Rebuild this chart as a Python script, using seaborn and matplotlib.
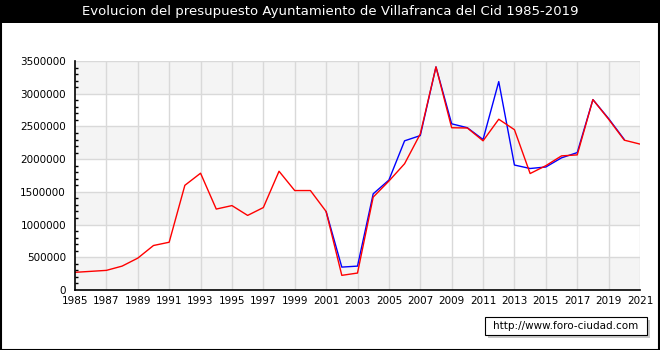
import matplotlib
matplotlib.use("Agg")
import matplotlib.pyplot as plt
from matplotlib.patches import Rectangle
from matplotlib.ticker import MultipleLocator, FixedLocator
import numpy as np
import pandas as pd
import seaborn as sns

sns.set_style("white")
plt.rcParams["font.family"] = ["DejaVu Sans"]

# Presupuesto anual (euros)
years_red = list(range(1985, 2022))
budget_red = [270000, 285000, 300000, 365000, 487000, 680000, 730000, 1600000,
              1785000, 1237000, 1290000, 1140000, 1260000, 1815000, 1520000,
              1520000, 1200000, 224000, 259000, 1420000, 1665000, 1930000,
              2385000, 3410000, 2480000, 2476000, 2280000, 2610000, 2450000,
              1780000, 1900000, 2050000, 2065000, 2910000, 2610000, 2290000,
              2230000]

years_blue = list(range(2001, 2021))
budget_blue = [1200000, 350000, 365000, 1470000, 1680000, 2280000, 2360000,
               3410000, 2540000, 2480000, 2300000, 3185000, 1910000, 1857000,
               1880000, 2020000, 2100000, 2910000, 2620000, 2300000]

title = "Evolucion del presupuesto Ayuntamiento de Villafranca del Cid 1985-2019"
credit = "http://www.foro-ciudad.com"
x_ticks = list(range(1985, 2022, 2))
y_ticks = list(range(0, 3500001, 500000))

df_red = pd.DataFrame({"year": years_red, "value": budget_red})
df_blue = pd.DataFrame({"year": years_blue, "value": budget_blue})

fig = plt.figure(figsize=(6.6, 3.5), dpi=100)
W, H = 660, 350
ax = fig.add_axes([75 / W, (H - 290) / H, (640 - 75) / W, (290 - 61) / H])

# alternating horizontal bands
for i, lo in enumerate(y_ticks[:-1]):
    if i % 2 == 0:
        ax.axhspan(lo, lo + 500000, color="#f4f4f4", lw=0, zorder=0)

ax.set_xlim(1985, 2021)
ax.set_ylim(0, 3500000)

for x in x_ticks[1:]:
    ax.axvline(x, color="#d9d9d9", lw=1.0, zorder=1)
for y in y_ticks[1:]:
    ax.axhline(y, color="#d9d9d9", lw=1.0, zorder=1)

sns.lineplot(data=df_blue, x="year", y="value", color="#0000ff", lw=1.0, ax=ax, zorder=3)
sns.lineplot(data=df_red, x="year", y="value", color="#ff0000", lw=1.0, ax=ax, zorder=4)

ax.set_xlabel("")
ax.set_ylabel("")
ax.xaxis.set_major_locator(FixedLocator(x_ticks))
ax.set_xticklabels([str(v) for v in x_ticks])
ax.yaxis.set_major_locator(FixedLocator(y_ticks))
ax.set_yticklabels([str(v) for v in y_ticks])
ax.yaxis.set_minor_locator(MultipleLocator(100000))

ax.tick_params(axis="both", which="major", direction="in", length=4, width=1,
               color="black", labelsize=7.5, labelcolor="black")
ax.tick_params(axis="y", which="minor", direction="in", length=2.5, width=1,
               color="black", left=True)
ax.tick_params(axis="y", which="major", pad=6.5)
ax.tick_params(axis="x", which="major", pad=4)

for side in ("top", "right"):
    ax.spines[side].set_visible(False)
for side in ("left", "bottom"):
    ax.spines[side].set_color("black")
    ax.spines[side].set_linewidth(1.2)
    ax.spines[side].set_zorder(5)

# title bar
fig.patches.append(Rectangle((0, 1 - 23 / H), 1, 23 / H, transform=fig.transFigure,
                             facecolor="black", edgecolor="none", zorder=0))
fig.text(0.5, 1 - 12 / H, title, color="white", ha="center", va="center", fontsize=9.5)

# outer frame
fig.patches.append(Rectangle((0.5 / W, 0.5 / H), 1 - 1.5 / W, 1 - 1.5 / H,
                             transform=fig.transFigure, facecolor="none",
                             edgecolor="black", lw=1.5, zorder=10))

# credit box with shadow
fig.patches.append(Rectangle((488 / W, (H - 338) / H), 162 / W, 18 / H,
                             transform=fig.transFigure, facecolor="#c8c8c8",
                             edgecolor="none", zorder=1))
fig.patches.append(Rectangle((485 / W, (H - 335) / H), 162 / W, 18 / H,
                             transform=fig.transFigure, facecolor="white",
                             edgecolor="black", lw=0.8, zorder=2))
fig.text(566 / W, (H - 326) / H, credit, ha="center", va="center",
         fontsize=7.5, color="black", zorder=3)

fig.savefig("out.png", dpi=100)
